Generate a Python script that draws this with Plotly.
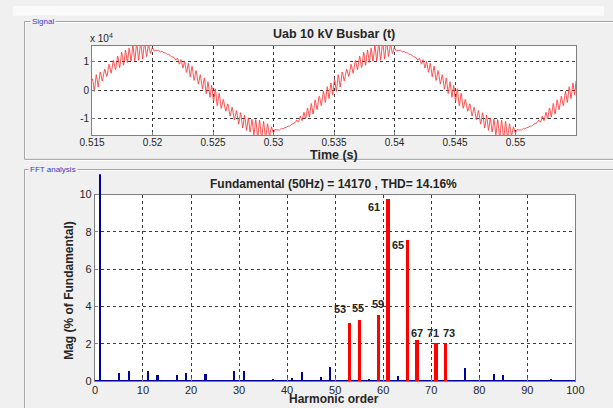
import numpy as np
import plotly.graph_objects as go

W, H = 613, 408
# ---------------- data ----------------
fundamental_hz = 50
fundamental_amp = 14170          # V (peak) of the 50 Hz component
thd_pct = 14.16
zero_cross_time = 0.5147         # rising zero crossing of the fundamental (s)
time_start, time_end, time_step = 0.515, 0.555, 1e-5

# dominant harmonics (red bars), magnitude in % of fundamental, estimated phase (rad)
major_orders = [53, 55, 59, 61, 65, 67, 71, 73]
major_mag = [3.12, 3.30, 3.56, 9.77, 7.59, 2.26, 2.05, 2.05]
major_phase = [3.73, 5.69, 4.22, 0.0, 1.57, 3.09, 3.93, 1.33]
# other harmonics (blue bars)
minor_orders = [5, 7, 11, 13, 17, 19, 23, 25, 29, 31, 35, 37, 41, 43, 47, 49, 51, 57, 63, 69, 75, 77, 79, 83, 85, 87, 89, 91, 95, 97]
minor_mag = [0.46, 0.6, 0.6, 0.38, 0.34, 0.48, 0.42, 0.05, 0.6, 0.6, 0.05, 0.16, 0.22, 0.51, 0.25, 0.8, 0.07, 0.16, 0.3, 0.11, 0.09, 0.72, 0.07, 0.42, 0.34, 0.08, 0.11, 0.08, 0.16, 0.06]
fund_order = [1]
fund_mag = [100]

time_ticks = [0.515, 0.52, 0.525, 0.53, 0.535, 0.54, 0.545, 0.55]
time_tick_labels = ["0.515", "0.52", "0.525", "0.53", "0.535", "0.54", "0.545", "0.55"]
volt_ticks = [-1e4, 0, 1e4]
volt_tick_labels = ["-1", "0", "1"]
mag_ticks = [0, 2, 4, 6, 8, 10]
order_ticks = [0, 10, 20, 30, 40, 50, 60, 70, 80, 90, 100]

# time signal rebuilt from the spectrum
t = np.arange(time_start, time_end, time_step)
v = fundamental_amp * np.sin(2 * np.pi * fundamental_hz * (t - zero_cross_time))
for h, m, p in zip(major_orders, major_mag, major_phase):
    v = v + fundamental_amp * m / 100 * np.cos(2 * np.pi * h * fundamental_hz * t + p)

# ---------------- layout helpers ----------------
def px(x): return x / W
def py(y): return 1 - y / H

BLUE = "#00009c"
RED = "#ff0000"
FONT = "Liberation Sans, Arial, sans-serif"
TXT = "#262626"

fig = go.Figure()
fig.add_trace(go.Scatter(x=t, y=v, mode="lines", line=dict(color="#ff2a2a", width=0.8),
                         xaxis="x", yaxis="y", showlegend=False, hoverinfo="skip"))
fig.add_trace(go.Bar(x=minor_orders, y=minor_mag, width=0.45, marker=dict(color=BLUE, line_width=0),
                     xaxis="x2", yaxis="y2", showlegend=False))
fig.add_trace(go.Bar(x=major_orders, y=major_mag, width=0.7, marker=dict(color=RED, line_width=0),
                     xaxis="x2", yaxis="y2", showlegend=False))
fig.add_trace(go.Bar(x=fund_order, y=fund_mag, width=0.45, marker=dict(color=BLUE, line_width=0),
                     xaxis="x3", yaxis="y3", showlegend=False))

grid = dict(showgrid=True, gridcolor="#3a3a3a", griddash="dot", gridwidth=1,
            showline=True, mirror=True, linecolor="#808080", linewidth=1,
            ticks="inside", ticklen=3, tickcolor="#808080", zeroline=False)
top_l, top_r, top_t, top_b = 82, 584, 41, 133
fft_l, fft_r, fft_t, fft_b, ext_t = 85, 583.3, 194.3, 386.7, 173.3
fig.update_layout(
    width=W, height=H, margin=dict(l=0, r=0, t=0, b=0),
    paper_bgcolor="#f0f0f0", plot_bgcolor="rgba(0,0,0,0)", bargap=0, barmode="overlay",
    font=dict(family=FONT, color=TXT),
    xaxis=dict(domain=[px(top_l), px(top_r)], range=[0.515, 0.555], tickvals=time_ticks, ticktext=time_tick_labels,
               tickfont=dict(size=10), ticklabelstandoff=-2, anchor="y", **grid),
    yaxis=dict(domain=[py(top_b), py(top_t)], range=[-1.57e4, 1.55e4], tickvals=volt_ticks, ticktext=volt_tick_labels,
               tickfont=dict(size=10), anchor="x", **grid),
    xaxis2=dict(domain=[px(fft_l), px(fft_r)], range=[0, 100], tickvals=order_ticks, tickfont=dict(size=11),
                ticklabelstandoff=-2, anchor="y2", **grid),
    yaxis2=dict(domain=[py(fft_b), py(fft_t)], range=[0, 10], tickvals=mag_ticks, tickfont=dict(size=11), anchor="x2", **grid),
    xaxis3=dict(domain=[px(fft_l), px(fft_r)], range=[0, 100], visible=False, anchor="y3"),
    yaxis3=dict(domain=[py(fft_b), py(ext_t)], range=[0, 10 * (fft_b - ext_t) / (fft_b - fft_t)], visible=False, anchor="x3"),
)
fig.update_layout(yaxis2=dict(zeroline=True, zerolinecolor=BLUE, zerolinewidth=2))

shapes = [
    dict(type="rect", xref="paper", yref="paper", x0=0, x1=1, y0=py(10), y1=1, fillcolor="#fafafa", line_width=0, layer="below"),
    dict(type="rect", xref="paper", yref="paper", x0=px(13), x1=px(640), y0=py(159), y1=py(17), line=dict(color="#ffffff", width=1), layer="below"),
    dict(type="rect", xref="paper", yref="paper", x0=px(12), x1=px(640), y0=py(158), y1=py(16), line=dict(color="#a0a0a0", width=1), layer="below"),
    dict(type="rect", xref="paper", yref="paper", x0=px(13), x1=px(640), y0=py(450), y1=py(169.5), line=dict(color="#ffffff", width=1), layer="below"),
    dict(type="rect", xref="paper", yref="paper", x0=px(12), x1=px(640), y0=py(450), y1=py(168.5), line=dict(color="#a0a0a0", width=1), layer="below"),
    dict(type="rect", xref="paper", yref="paper", x0=px(top_l), x1=px(top_r), y0=py(top_b), y1=py(top_t), fillcolor="#ffffff", line_width=0, layer="below"),
    dict(type="rect", xref="paper", yref="paper", x0=px(fft_l), x1=px(fft_r), y0=py(fft_b), y1=py(fft_t), fillcolor="#ffffff", line_width=0, layer="below"),
]
fig.update_layout(shapes=shapes)

ann = []
def add_text(text, x, y, size, bold=True, color=TXT, yanchor="middle", **kw):
    ann.append(dict(text=("<b>%s</b>" % text) if bold else text, x=px(x), y=py(y), xref="paper", yref="paper",
                    showarrow=False, font=dict(size=size, color=color, family=FONT), xanchor="center", yanchor=yanchor, **kw))
add_text("Uab 10 kV Busbar (t)", 332.5, 29, 12.5)
add_text("Time (s)", 333, 153.5, 12.5)
add_text("x 10<sup>4</sup>", 92, 33, 10, bold=False)
add_text("Fundamental (50Hz) = %d , THD= %.2f%%" % (fundamental_amp, thd_pct), 332.5, 183, 12)
add_text("Mag (% of Fundamental)", 58, 292.5, 12, textangle=-90)
add_text("Harmonic order", 333, 397, 12, yanchor="top", borderpad=0)
add_text("Signal", 31, 16, 8, bold=False, color="#3c3cc8", bgcolor="#f0f0f0")
add_text("FFT analysis", 41, 168.5, 8, bold=False, color="#3c3cc8", bgcolor="#f0f0f0")

label_offsets = [(-2.0, 0.73), (-0.2, 0.6), (0.0, 0.58), (-3.0, -0.46), (-2.0, -0.31), (0.0, 0.33), (-0.6, 0.54), (0.8, 0.54)]
for h, m, (dx, dy) in zip(major_orders, major_mag, label_offsets):
    ann.append(dict(text="<b>%d</b>" % h, x=h + dx, y=m + dy, xref="x2", yref="y2", showarrow=False,
                    font=dict(size=11, color=TXT, family=FONT), xanchor="center", yanchor="middle"))
fig.update_layout(annotations=ann)
fig.write_html("out.html")
